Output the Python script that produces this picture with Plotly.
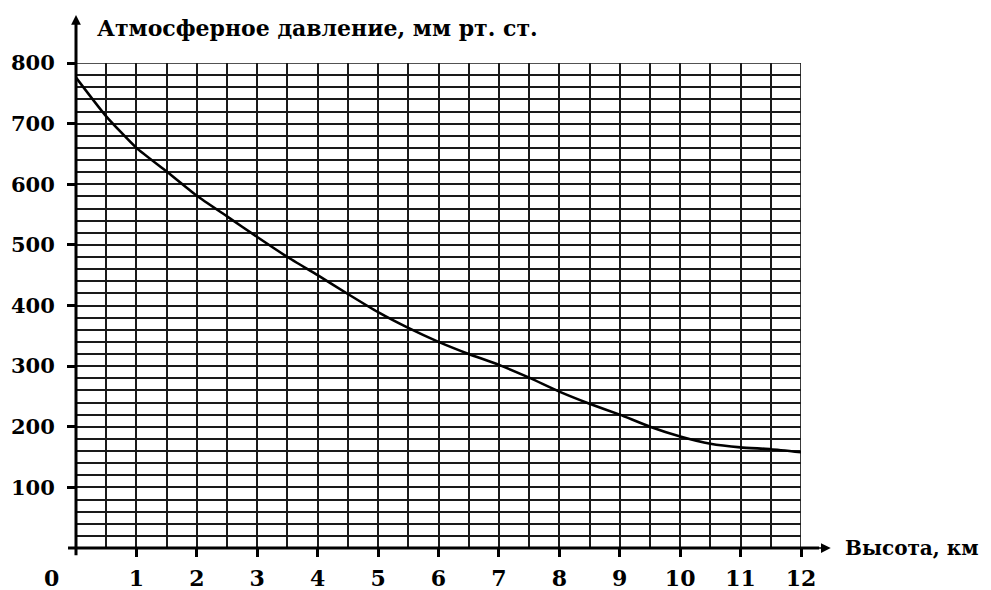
import plotly.graph_objects as go

# Data
height_km = [0, 0.5, 1, 1.5, 2, 2.5, 3, 3.5, 4, 4.5, 5, 5.5, 6,
             6.5, 7, 7.5, 8, 8.5, 9, 9.5, 10, 10.5, 11, 11.5, 12]
pressure_mm = [776, 712, 660, 621, 581, 547, 513, 480, 450, 419, 389, 363, 340,
               320, 302, 281, 258, 238, 220, 200, 184, 172, 166, 163, 158]
x_ticks = list(range(1, 13))
y_ticks = list(range(100, 900, 100))

y_title = "Атмосферное давление, мм рт. ст."
x_title = "Высота, км"

FONT = "DejaVu Serif"
GRID = "#1a1a1a"

fig = go.Figure()
fig.add_trace(go.Scatter(
    x=height_km, y=pressure_mm, mode="lines",
    line=dict(color="black", width=2.6, shape="spline", smoothing=0.5),
    hoverinfo="skip", showlegend=False,
))

fig.update_layout(
    width=983, height=582,
    margin=dict(l=68, r=190, t=55, b=42),
    paper_bgcolor="white", plot_bgcolor="white",
    showlegend=False,
    xaxis=dict(
        range=[0, 12], tickvals=x_ticks, ticktext=[str(v) for v in x_ticks],
        ticks="outside", ticklen=8, tickwidth=2.5, tickcolor="black",
        showgrid=True, gridcolor=GRID, gridwidth=1.7,
        minor=dict(dtick=0.5, tick0=0, showgrid=True, gridcolor=GRID, gridwidth=1.7),
        showline=False, zeroline=False, automargin=False,
        tickfont=dict(family=FONT, size=22, color="black", weight="bold"),
        ticklabelstandoff=3,
        fixedrange=True,
    ),
    yaxis=dict(
        range=[0, 800], tickvals=y_ticks, ticktext=[str(v) for v in y_ticks],
        ticks="outside", ticklen=8, tickwidth=2.5, tickcolor="black",
        showgrid=True, gridcolor=GRID, gridwidth=1.7,
        minor=dict(dtick=20, tick0=0, showgrid=True, gridcolor=GRID, gridwidth=1.7),
        showline=False, zeroline=False, automargin=False,
        tickfont=dict(family=FONT, size=21, color="black", weight="bold"),
        ticklabelstandoff=8,
        fixedrange=True,
    ),
)

# Border of the grid (top and right)
fig.add_shape(type="rect", xref="x", yref="y", x0=0, x1=12, y0=0, y1=800,
              line=dict(color=GRID, width=1.7), layer="below")

# Axis lines (thick), extended beyond the grid
fig.add_shape(type="line", xref="paper", yref="paper",
              x0=-0.011, x1=1.025, y0=0, y1=0,
              line=dict(color="black", width=3))
fig.add_shape(type="line", xref="paper", yref="paper",
              x0=0, x1=0, y0=-0.015, y1=1.085,
              line=dict(color="black", width=3))

# Arrow heads
fig.add_annotation(xref="paper", yref="paper", x=1.041, y=0, ax=-22, ay=0,
                   showarrow=True, arrowhead=2, arrowsize=1.3, arrowwidth=1.5,
                   arrowcolor="black", text="")
fig.add_annotation(xref="paper", yref="paper", x=0, y=1.099, ax=0, ay=20,
                   showarrow=True, arrowhead=2, arrowsize=1.3, arrowwidth=1.5,
                   arrowcolor="black", text="")

# Origin label
fig.add_annotation(xref="x", yref="y", x=0, y=0, text="0", showarrow=False,
                   xanchor="center", yanchor="middle", xshift=-25, yshift=-30,
                   font=dict(family=FONT, size=22, color="black", weight="bold"))

# Axis titles
fig.add_annotation(xref="paper", yref="paper", x=0.026, y=1.072, text=y_title,
                   showarrow=False, xanchor="left", yanchor="middle",
                   font=dict(family=FONT, size=22, color="black", weight="bold"))
fig.add_annotation(xref="paper", yref="paper", x=1.058, y=0, text=x_title,
                   showarrow=False, xanchor="left", yanchor="middle",
                   font=dict(family=FONT, size=20, color="black", weight="bold"))

fig.write_html("out.html")
